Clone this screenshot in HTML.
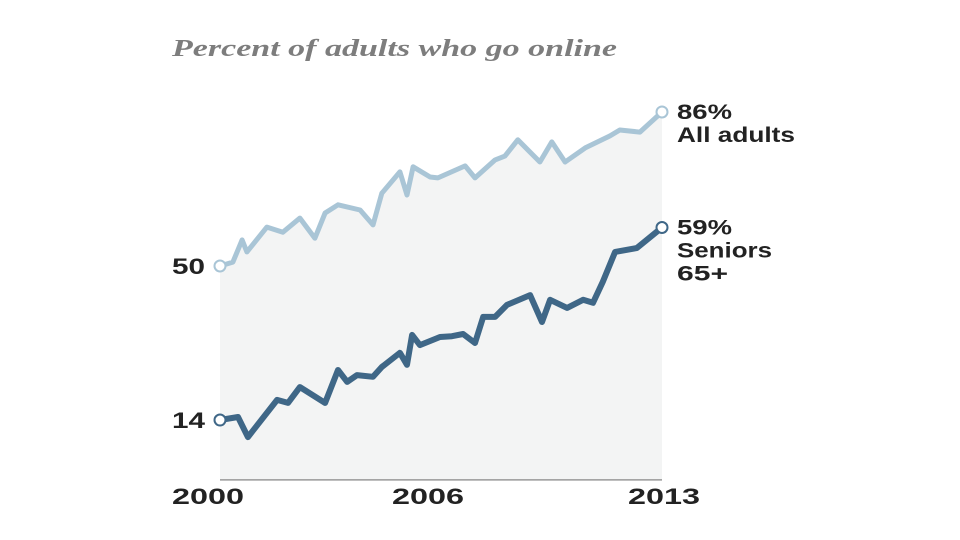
<!DOCTYPE html>
<html><head><meta charset="utf-8"><style>
body{margin:0;background:#fff;}
svg{display:block;font-family:"Liberation Sans",sans-serif;}
</style></head><body>
<svg width="960" height="540" viewBox="0 0 960 540">
<text x="172" y="56" font-family="Liberation Serif,serif" font-style="italic" font-weight="bold" font-size="24" fill="#7d7d7d" textLength="445" lengthAdjust="spacingAndGlyphs">Percent of adults who go online</text>
<g id="plot"></g>
</svg>
<script>
const adultYears=[2000,2000.38,2000.65,2000.79,2001.38,2001.85,2002.35,2002.79,2003.09,2003.47,2004.12,2004.5,2004.76,2005.29,2005.5,2005.68,2006.18,2006.41,2007.21,2007.5,2008.09,2008.38,2008.76,2009.41,2009.76,2010.15,2010.74,2011.47,2011.76,2012.35,2013];
const adultValues=[50,50.9,56.1,53.3,59.1,57.9,61.2,56.5,62.4,64.3,63.1,59.6,67,72,66.6,73.2,70.8,70.6,73.4,70.6,74.8,75.7,79.5,74.3,79,74.3,77.6,80.4,81.8,81.3,86];
const seniorYears=[2000,2000.53,2000.82,2001.68,2002,2002.35,2003.09,2003.47,2003.74,2004.03,2004.5,2004.76,2005.29,2005.5,2005.65,2005.88,2006.47,2006.82,2007.15,2007.5,2007.74,2008.09,2008.44,2009.12,2009.47,2009.71,2010.21,2010.68,2010.97,2011.26,2011.62,2012.26,2013];
const seniorValues=[14,14.7,10,18.7,18,21.7,18,25.7,22.9,24.5,24.1,26.4,29.7,26.9,33.9,31.5,33.4,33.6,34.1,32,38.1,38.1,40.9,43.2,36.9,42.1,40.2,42.1,41.4,46.3,53.3,54.2,59];
const yTickValues=[50,14];
const xTickLabels=["2000","2006","2013"];
const xTickYears=[2000,2006,2013];
const endLabels=[["86%","All adults"],["59%","Seniors","65+"]];

const NS="http://www.w3.org/2000/svg";
const g=document.getElementById('plot');
const X=yr=>220+(yr-2000)*34;
const Y=v=>266-(v-50)*4.278;
function mk(t,a){const e=document.createElementNS(NS,t);for(const k in a)e.setAttribute(k,a[k]);g.appendChild(e);return e;}
const pts=(xs,vs)=>xs.map((x,i)=>X(x).toFixed(1)+','+Y(vs[i]).toFixed(1));
const base=Y(0);
const area=mk('polygon',{points:[X(2000)+','+base,...pts(adultYears,adultValues),X(2013)+','+base].join(' '),fill:'#f3f4f4'});


const ax=mk('line',{x1:X(2000),x2:X(2013),y1:base,y2:base,stroke:'#999','stroke-width':1.5});


const l1=mk('polyline',{points:pts(adultYears,adultValues).join(' '),fill:'none',stroke:'#a9c5d6','stroke-width':5,'stroke-linejoin':'round'});


const l2=mk('polyline',{points:pts(seniorYears,seniorValues).join(' '),fill:'none',stroke:'#3f6787','stroke-width':6,'stroke-linejoin':'round'});


[[adultYears,adultValues,'#a9c5d6','all-adults'],[seniorYears,seniorValues,'#3f6787','seniors']].forEach(([xs,vs,c,n])=>{
 [0,xs.length-1].forEach(i=>{
  const d=mk('circle',{cx:X(xs[i]),cy:Y(vs[i]),r:5.5,fill:'#fff',stroke:c,'stroke-width':2});
  
  
 });
});
yTickValues.forEach(v=>{
 const t=mk('text',{x:172,y:Y(v)+8,'font-size':22,fill:'#222','font-weight':'600',textLength:33,lengthAdjust:'spacingAndGlyphs'});t.textContent=v;
 
 
});
const xLabelLeft=[172,392,628];
xTickYears.forEach((yr,i)=>{
 const t=mk('text',{x:xLabelLeft[i],y:504,'font-size':22,fill:'#222','font-weight':'600',textLength:72,lengthAdjust:'spacingAndGlyphs'});t.textContent=xTickLabels[i];
 
 
});
const labelWidths=[[55,118],[55,95,51]];
[[adultValues,endLabels[0],'all-adults',labelWidths[0]],[seniorValues,endLabels[1],'seniors',labelWidths[1]]].forEach(([vs,lab,n,w])=>{
 const y0=Y(vs[vs.length-1])+7;
 lab.forEach((s,i)=>{
  const t=mk('text',{x:677,y:y0+i*23,'font-size':21,fill:'#222','font-weight':i?'600':'bold',textLength:w[i],lengthAdjust:'spacingAndGlyphs'});
  t.textContent=s;
  
  
 });
});
</script>
</body></html>
